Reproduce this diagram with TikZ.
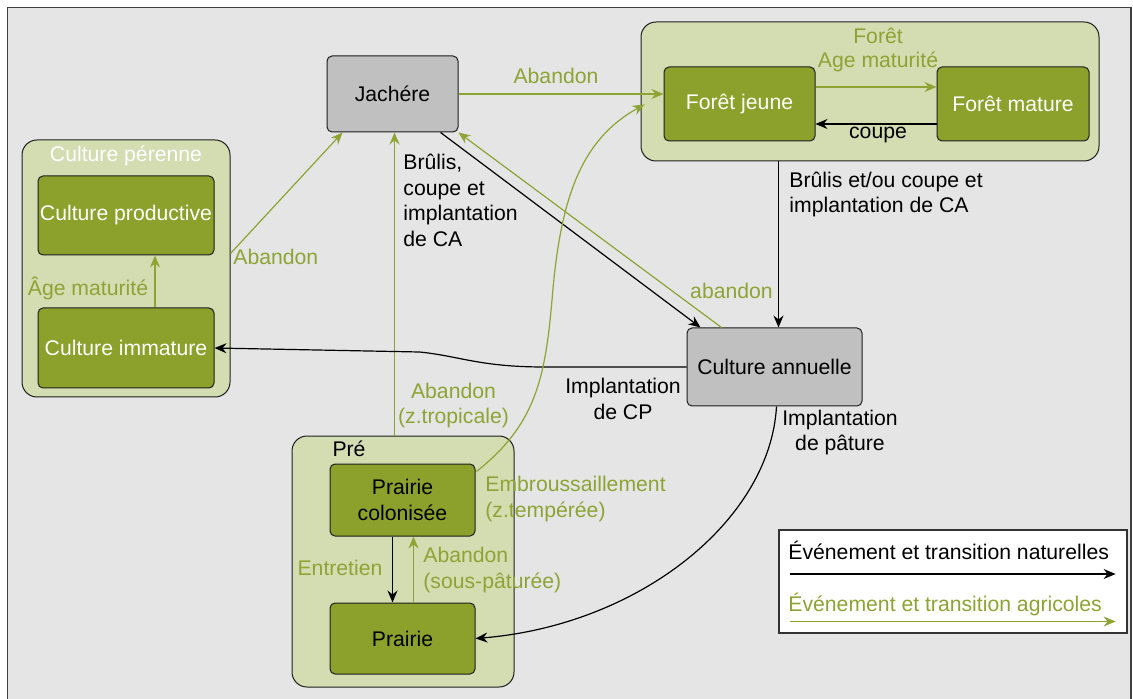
\documentclass[tikz,border=0pt]{standalone}
\usepackage{fontspec}
\setmainfont{Liberation Sans}
\usetikzlibrary{arrows.meta,calc}
\definecolor{bgc}{RGB}{229,229,229}
\definecolor{grpc}{RGB}{212,220,178}
\definecolor{olive}{RGB}{139,161,43}
\definecolor{agri}{RGB}{141,164,52}
\definecolor{grayn}{RGB}{192,192,192}
\definecolor{edge}{RGB}{30,30,30}
\tikzset{
  base/.style={font=\fontsize{10.6}{12.75}\selectfont},
  grp/.style={draw=edge,line width=0.5pt,fill=grpc,rounded corners=7.5pt,inner sep=0pt},
  gbox/.style={draw=edge,line width=0.5pt,fill=olive,rounded corners=2.5pt,inner sep=0pt,text=white,align=center},
  pbox/.style={draw=edge,line width=0.5pt,fill=olive,rounded corners=2.5pt,inner sep=0pt,text=black,align=center},
  nbox/.style={draw=edge,line width=0.5pt,fill=grayn,rounded corners=2.5pt,inner sep=0pt,text=black,align=center},
  natarr/.style={draw=black,line width=0.6pt,-{Stealth[length=6pt,width=5pt,inset=2pt]}},
  agrarr/.style={draw=agri,line width=0.6pt,-{Stealth[length=6pt,width=5pt,inset=2pt]}},
  glab/.style={text=agri,inner sep=0pt,align=center},
  blab/.style={text=black,inner sep=0pt,align=center},
}
\begin{document}
\begin{tikzpicture}[x=0.5pt,y=-0.5pt,base]
\useasboundingbox (0,0) rectangle (1133,699);
\fill[white] (0,0) rectangle (1133,699);
\draw[draw=black!75,line width=0.75pt,fill=bgc] (7.5,7.5) rectangle (1131,720);

% groups
\node[grp,minimum width=229pt,minimum height=69.5pt] (fg) at (870,91.5) {};
\node[grp,minimum width=104pt,minimum height=128.5pt] (cp) at (126,268.5) {};
\node[grp,minimum width=111pt,minimum height=125.5pt] (pre) at (403,561.5) {};

% nodes
\node[nbox,minimum width=65.5pt,minimum height=38pt] (jach) at (392.5,94) {Jachére};
\node[gbox,minimum width=75.5pt,minimum height=37pt] (fj) at (739.5,104) {Forêt jeune};
\node[gbox,minimum width=76pt,minimum height=37pt] (fm) at (1013,104) {Forêt mature};
\node[gbox,minimum width=88pt,minimum height=39.5pt] (cpr) at (126,215.5) {Culture productive};
\node[gbox,minimum width=88pt,minimum height=40pt] (ci) at (126,348) {Culture immature};
\node[nbox,minimum width=87.5pt,minimum height=39pt] (ca) at (774.5,367) {Culture annuelle};
\node[pbox,minimum width=72.5pt,minimum height=36pt] (pc) at (402.5,500) {Prairie\\colonisée};
\node[pbox,minimum width=72.5pt,minimum height=35.5pt] (pr) at (402.5,638.5) {Prairie};

% group labels
\node[glab] (lfor) at (878,36) {Forêt};
\node[text=white,inner sep=0pt] (lcp) at (126,156) {Culture pérenne};
\node[blab] (lpre) at (349,449) {Pré};

% forest internal
\draw[agrarr] ($(fj.east)+(0,-17)$) -- ($(fm.west)+(0,-17)$);
\node[glab] (lam) at (878,62) {Age maturité};
\draw[natarr] ($(fm.west)+(0,20)$) -- ($(fj.east)+(0,20)$);
\node[blab] (lcoupe) at (878,135) {coupe};

% culture pérenne internal
\draw[agrarr] ($(ci.north)+(29,0)$) -- ($(cpr.south)+(29,0)$);
\node[glab] (lagem) at (88,288) {Âge maturité};

% Jachère -> forêt jeune
\draw[agrarr] (jach.east) -- (fj.west |- jach.east);
\node[glab] (lab1) at (556,76) {Abandon};

% culture pérenne -> Jachère
\draw[agrarr] ($(cp.east)+(0,-15)$) -- ($(jach.south west)+(16,0)$);
\node[glab,anchor=west] (lab2) at (233,257) {Abandon};

% Pré -> Jachère
\coordinate (jx) at ($(jach.south)+(2,0)$);
\draw[agrarr] (jx |- pre.north) -- (jx);
\node[glab] (lab3) at (453.5,405.5) {Abandon\\(z.tropicale)};

% Jachère -> Culture annuelle
\draw[natarr] ($(jach.south east)+(-18,0)$) -- ($(ca.north west)+(14,0)$);
\node[blab,anchor=west,align=left] (lbr) at (403,200.5) {Brûlis,\\coupe et\\implantation\\de CA};

% Culture annuelle -> Jachère
\draw[agrarr] ($(ca.north west)+(35,0)$) -- (jach.south east);
\node[glab] (lab4) at (731.5,290.5) {abandon};

% Forêt -> Culture annuelle
\coordinate (fx) at ($(ca.north)+(4,0)$);
\draw[natarr] (fx |- fg.south) -- (fx);
\node[blab,anchor=west,align=left] (lbr2) at (789,194.5) {Brûlis et/ou coupe et\\implantation de CA};

% Culture annuelle -> Culture immature
\draw[natarr] (ca.west) -- ++(-142,0) .. controls +(-65,0) and +(40,4) .. ++(-125,-15) -- (ci.east);
\node[blab] (lcp2) at (623,399) {Implantation\\de CP};

% Culture annuelle -> Prairie
\draw[natarr] ($(ca.south)+(2,0)$) .. controls (770,520) and (640,625) .. (pr.east);
\node[blab] (lpat) at (840,432.5) {Implantation\\de pâture};

% Prairie colonisée -> Forêt
\draw[agrarr] ($(pc.north east)+(1,8)$) .. controls (535,425) and (545,380) .. (552,300) .. controls (560,200) and (580,140) .. ($(fg.west)+(4,13)$);
\node[glab,anchor=west,align=left] (lemb) at (485,499) {Embroussaillement\\(z.tempérée)};

% Pré internal
\draw[natarr] ($(pc.south)+(-10,0)$) -- ($(pr.north)+(-10,0)$);
\node[glab] (lent) at (340,568) {Entretien};
\draw[agrarr] ($(pr.north)+(11,0)$) -- ($(pc.south)+(11,0)$);
\node[glab,anchor=west,align=left] (lsp) at (423,570) {Abandon\\(sous-pâturée)};

% legend
\node[draw=black!80,line width=0.6pt,fill=white,minimum width=174pt,minimum height=51.5pt,inner sep=0pt] (leg) at (953,581.5) {};
\node[blab,anchor=west] (lg1) at (788,550) {Événement et transition naturelles};
\coordinate (la1) at ($(leg.west)+(12,-7.5)$);
\coordinate (lb1) at ($(leg.east)+(-12,-7.5)$);
\draw[natarr] (la1) -- (lb1);
\node[glab,anchor=west] (lg2) at (788,605) {Événement et transition agricoles};
\coordinate (la2) at ($(leg.west)+(12,40)$);
\coordinate (lb2) at ($(leg.east)+(-12,40)$);
\draw[agrarr] (la2) -- (lb2);
\end{tikzpicture}
\end{document}
